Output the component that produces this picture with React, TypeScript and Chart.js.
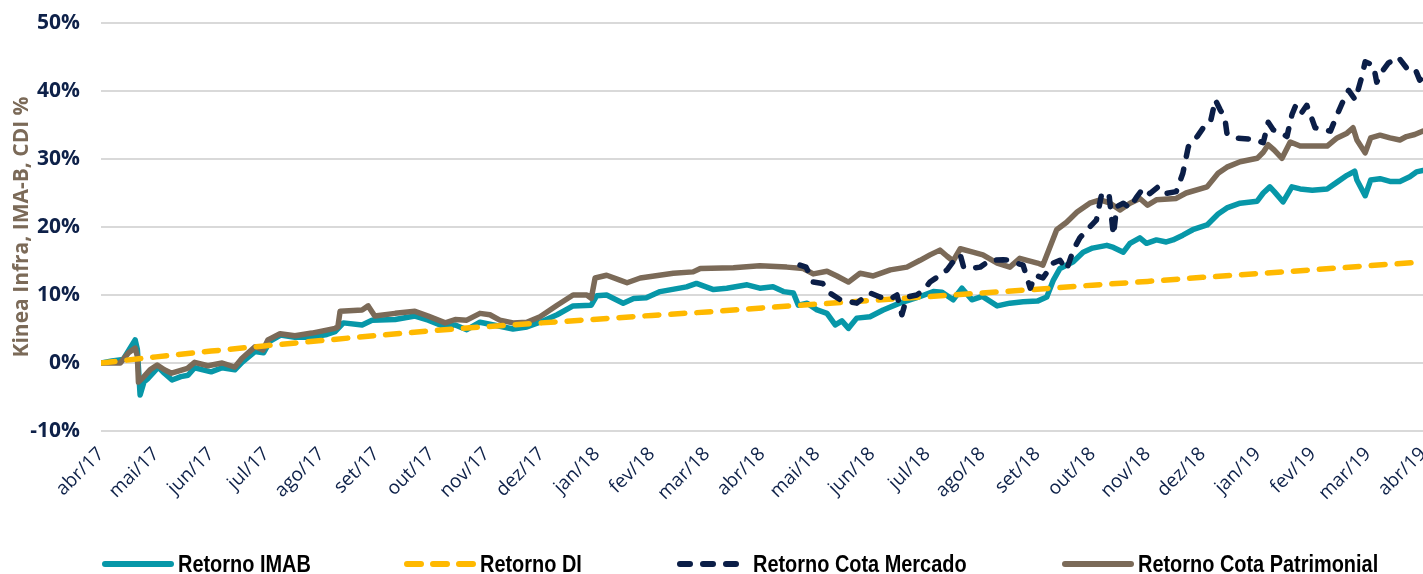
import React, { useEffect, useRef } from 'react';
import { Chart, registerables } from 'chart.js';

Chart.register(...registerables);

// ---- Data ----
const monthLabels = [
  'abr/17', 'mai/17', 'jun/17', 'jul/17', 'ago/17', 'set/17', 'out/17', 'nov/17', 'dez/17',
  'jan/18', 'fev/18', 'mar/18', 'abr/18', 'mai/18', 'jun/18', 'jul/18', 'ago/18', 'set/18',
  'out/18', 'nov/18', 'dez/18', 'jan/19', 'fev/19', 'mar/19', 'abr/19',
];

const seriesNames = ['Retorno IMAB', 'Retorno DI', 'Retorno Cota Mercado', 'Retorno Cota Patrimonial'];

// time in months since abr/17
const imabT = [
  0, 0.2, 0.4, 0.5, 0.62, 0.66, 0.71, 0.78, 0.85, 1.04,
  1.15, 1.29, 1.45, 1.58, 1.7, 1.85, 2.0, 2.2, 2.43, 2.56,
  2.8, 2.95, 3.07, 3.26, 3.52, 3.83, 4.1, 4.25, 4.4, 4.74,
  4.92, 5.34, 5.7, 5.94, 6.25, 6.43, 6.64, 6.88, 7.24, 7.48,
  7.73, 7.97, 8.28, 8.57, 8.9, 9.0, 9.18, 9.48, 9.67, 9.9,
  10.15, 10.63, 10.81, 11.12, 11.36, 11.73, 11.96, 12.2, 12.39, 12.57,
  12.66, 12.82, 13.0, 13.18, 13.33, 13.45, 13.57, 13.72, 13.96, 14.2,
  14.5, 14.81, 15.11, 15.27, 15.47, 15.63, 15.81, 16.0, 16.27, 16.5,
  16.74, 17.0, 17.17, 17.29, 17.41, 17.65, 17.83, 18.0, 18.26, 18.38,
  18.56, 18.68, 18.86, 18.98, 19.16, 19.34, 19.46, 19.64, 19.82, 20.08,
  20.28, 20.44, 20.68, 20.99, 21.1, 21.22, 21.3, 21.46, 21.62, 21.77,
  21.99, 22.26, 22.44, 22.62, 22.76, 22.8, 22.95, 23.05, 23.22, 23.4,
  23.58, 23.76, 23.88, 24.0,
];
const imabV = [
  0, 0.3, 0.5, 1.8, 3.4, 2.0, -4.7, -2.8, -2.3, -0.6,
  -1.5, -2.5, -2.0, -1.8, -0.7, -1.0, -1.3, -0.7, -1.0, 0.1,
  1.7, 1.5, 3.2, 4.1, 3.8, 3.8, 4.2, 4.6, 5.9, 5.6,
  6.3, 6.4, 6.9, 6.3, 5.3, 5.6, 4.9, 6.0, 5.4, 5.0,
  5.3, 6.0, 7.1, 8.4, 8.5, 9.9, 10.0, 8.8, 9.5, 9.6,
  10.5, 11.2, 11.7, 10.8, 11.0, 11.5, 11.0, 11.2, 10.5, 10.3,
  8.5, 8.8, 7.8, 7.3, 5.6, 6.2, 5.1, 6.6, 6.8, 7.8,
  8.8, 9.6, 10.5, 10.4, 9.3, 11.0, 9.3, 9.8, 8.4, 8.8,
  9.0, 9.1, 9.7, 12.2, 13.9, 14.9, 16.3, 16.9, 17.3, 17.0,
  16.3, 17.6, 18.4, 17.6, 18.1, 17.8, 18.1, 18.8, 19.6, 20.3,
  21.9, 22.8, 23.5, 23.8, 25.0, 25.9, 25.2, 23.7, 25.9, 25.6,
  25.4, 25.6, 26.6, 27.6, 28.2, 26.9, 24.6, 26.9, 27.1, 26.7,
  26.7, 27.4, 28.1, 28.3,
];

const diT = [0, 1, 2, 3, 4, 5, 6, 7, 8, 9, 10, 11, 12, 13, 14, 15, 16, 17, 18, 19, 20, 21, 22, 23, 24];
const diV = [
  0, 0.9, 1.75, 2.55, 3.3, 4.05, 4.75, 5.35, 5.9, 6.45, 7.0, 7.5, 8.1,
  8.65, 9.2, 9.75, 10.3, 10.85, 11.45, 12.0, 12.6, 13.15, 13.7, 14.3, 14.85,
];

const mercadoT = [
  12.69, 12.8, 12.93, 13.1, 13.23, 13.42, 13.72, 13.96, 14.14, 14.33,
  14.45, 14.54, 14.63, 14.81, 14.93, 15.05, 15.23, 15.36, 15.45, 15.6,
  15.66, 15.78, 15.96, 16.14, 16.38, 16.5, 16.62, 16.74, 16.87, 16.96,
  17.1, 17.29, 17.41, 17.53, 17.65, 17.77, 17.95, 18.07, 18.17, 18.3,
  18.38, 18.44, 18.56, 18.68, 18.8, 18.92, 19.04, 19.19, 19.31, 19.52,
  19.64, 19.74, 19.9, 20.02, 20.14, 20.23, 20.32, 20.4, 20.44, 20.56,
  20.93, 21.1, 21.19, 21.28, 21.44, 21.53, 21.62, 21.68, 21.77, 21.89,
  21.98, 22.04, 22.32, 22.44, 22.56, 22.65, 22.77, 22.89, 22.95, 23.1,
  23.16, 23.28, 23.37, 23.55, 23.7, 23.85, 23.94, 24.0,
];
const mercadoV = [
  14.4, 14.1, 11.9, 11.7, 10.3, 9.3, 8.8, 10.3, 9.7, 9.4,
  10.0, 7.1, 9.7, 10.0, 10.7, 11.9, 12.9, 13.7, 14.7, 15.9,
  14.1, 13.9, 14.1, 15.1, 15.2, 15.1, 14.7, 14.4, 11.0, 12.9,
  12.5, 14.7, 15.1, 13.7, 16.6, 18.4, 20.0, 21.0, 25.0, 24.8,
  18.8, 23.0, 23.5, 22.8, 24.4, 25.7, 24.9, 25.9, 24.9, 25.2,
  27.9, 31.8, 33.3, 34.7, 35.4, 38.7, 37.2, 36.2, 33.8, 33.1,
  32.9, 32.4, 35.4, 34.3, 33.8, 33.3, 36.5, 37.7, 36.5, 37.9,
  36.0, 34.6, 34.1, 36.5, 38.7, 40.1, 38.7, 42.1, 44.3, 43.8,
  41.3, 43.1, 44.1, 45.0, 43.4, 43.4, 41.6, 42.0,
];

const patrimT = [
  0, 0.35, 0.5, 0.62, 0.66, 0.68, 0.78, 0.89, 1.02, 1.15,
  1.28, 1.57, 1.7, 1.94, 2.2, 2.43, 2.56, 2.8, 2.94, 3.03,
  3.25, 3.52, 3.83, 4.25, 4.3, 4.34, 4.74, 4.85, 4.97, 5.34,
  5.7, 5.94, 6.25, 6.43, 6.64, 6.88, 7.06, 7.24, 7.48, 7.73,
  7.97, 8.28, 8.57, 8.82, 8.9, 8.97, 9.18, 9.42, 9.55, 9.79,
  10.39, 10.75, 10.88, 11.48, 11.96, 12.45, 12.75, 12.93, 13.18, 13.36,
  13.57, 13.78, 14.02, 14.33, 14.63, 14.87, 15.05, 15.23, 15.36, 15.47,
  15.6, 15.83, 16.01, 16.27, 16.5, 16.68, 17.0, 17.1, 17.35, 17.53,
  17.72, 17.95, 18.14, 18.32, 18.5, 18.68, 18.86, 19.0, 19.16, 19.52,
  19.7, 20.08, 20.28, 20.44, 20.68, 20.99, 21.1, 21.19, 21.3, 21.44,
  21.59, 21.77, 21.99, 22.26, 22.44, 22.62, 22.73, 22.8, 22.95, 23.05,
  23.22, 23.4, 23.58, 23.7, 23.85, 24.0,
];
const patrimV = [
  0, 0, 1.5, 2.2, 1.0, -2.8, -2.0, -1.0, -0.3, -1.0,
  -1.5, -0.8, 0.1, -0.4, 0, -0.6, 0.7, 2.4, 1.9, 3.4,
  4.3, 4.0, 4.4, 5.1, 5.3, 7.6, 7.8, 8.4, 6.9, 7.3,
  7.6, 6.9, 5.9, 6.4, 6.3, 7.3, 7.1, 6.3, 5.9, 6.0,
  6.8, 8.5, 10.0, 10.0, 9.5, 12.5, 12.9, 12.2, 11.8, 12.5,
  13.2, 13.4, 13.9, 14.0, 14.3, 14.1, 13.9, 13.1, 13.5, 12.8,
  11.9, 13.2, 12.8, 13.7, 14.1, 15.1, 15.9, 16.6, 15.7, 15.0,
  16.8, 16.3, 15.9, 14.7, 14.1, 15.4, 14.7, 14.4, 19.6, 20.7,
  22.2, 23.5, 24.0, 23.5, 22.5, 23.5, 24.2, 23.2, 24.0, 24.2,
  25.0, 25.9, 27.9, 28.8, 29.6, 30.1, 31.0, 32.1, 31.3, 30.1,
  32.5, 31.9, 31.9, 31.9, 33.1, 33.8, 34.6, 32.8, 30.9, 33.1,
  33.5, 33.1, 32.8, 33.3, 33.6, 34.1,
];

// ---- Styles ----
const TEAL = '#0797A8';
const YELLOW = '#FFB900';
const NAVY = '#0B1E47';
const BROWN = '#7B6A58';
const TICK_COLOR = '#0E2149';

const legendStarts = [102, 404, 677, 1062];

const bottomLegend = {
  id: 'bottomLegend',
  afterDraw(chart: any) {
    const ctx = chart.ctx as CanvasRenderingContext2D;
    const y = 564;
    ctx.save();
    chart.data.datasets.forEach((ds: any, i: number) => {
      const x0 = legendStarts[i];
      ctx.beginPath();
      ctx.strokeStyle = ds.borderColor;
      ctx.lineWidth = 6;
      ctx.lineCap = 'round';
      ctx.setLineDash(ds.borderDash || []);
      ctx.moveTo(x0 + 3, y);
      ctx.lineTo(x0 + 69, y);
      ctx.stroke();
      ctx.setLineDash([]);
      ctx.font = 'bold 24px "Liberation Sans", Arial, sans-serif';
      ctx.fillStyle = '#000000';
      ctx.textAlign = 'left';
      ctx.textBaseline = 'middle';
      const w = ctx.measureText(ds.label).width * 0.83;
      ctx.fillText(ds.label, x0 + 76, y + 1, w);
    });
    ctx.restore();
  },
};

export default function App() {
  const ref = useRef<HTMLCanvasElement>(null);
  useEffect(() => {
    const toPts = (t: number[], v: number[]) => t.map((x, i) => ({ x, y: v[i] }));
    const chart = new Chart(ref.current as HTMLCanvasElement, {
      type: 'line',
      data: {
        datasets: [
          {
            label: seriesNames[0],
            data: toPts(imabT, imabV),
            borderColor: TEAL,
            backgroundColor: TEAL,
            borderWidth: 5.5,
            borderCapStyle: 'round',
            order: 3,
          },
          {
            label: seriesNames[1],
            data: toPts(diT, diV),
            borderColor: YELLOW,
            backgroundColor: YELLOW,
            borderWidth: 5.5,
            borderDash: [14, 12],
            borderCapStyle: 'round',
            order: 1,
          },
          {
            label: seriesNames[2],
            data: toPts(mercadoT, mercadoV),
            borderColor: NAVY,
            backgroundColor: NAVY,
            borderWidth: 5.5,
            borderDash: [10, 13],
            borderCapStyle: 'round',
            order: 0,
          },
          {
            label: seriesNames[3],
            data: toPts(patrimT, patrimV),
            borderColor: BROWN,
            backgroundColor: BROWN,
            borderWidth: 5.5,
            borderCapStyle: 'round',
            order: 2,
          },
        ] as any,
      },
      options: {
        responsive: false,
        animation: false,
        devicePixelRatio: 1,
        layout: { autoPadding: false, padding: { top: 23, left: 0, right: 0, bottom: 0 } },
        elements: {
          point: { radius: 0, hoverRadius: 0 },
          line: { tension: 0, borderJoinStyle: 'round' },
        },
        plugins: { legend: { display: false }, tooltip: { enabled: false } },
        scales: {
          x: {
            type: 'linear',
            min: 0,
            max: 24,
            grid: { display: false },
            border: { display: false },
            ticks: {
              stepSize: 1,
              autoSkip: false,
              minRotation: 45,
              maxRotation: 45,
              padding: 4,
              color: TICK_COLOR,
              font: { family: '"Open Sans", sans-serif', size: 19 },
              callback: (v: any) => monthLabels[Math.round(Number(v))] ?? '',
            },
            afterFit: (s: any) => {
              s.height = 143;
              s.paddingLeft = 0;
              s.paddingRight = 0;
            },
          },
          y: {
            min: -10,
            max: 50,
            grid: { color: '#D9D9D9', lineWidth: 2, drawTicks: false },
            border: { display: false },
            ticks: {
              stepSize: 10,
              padding: 21,
              color: TICK_COLOR,
              font: { family: '"Open Sans", sans-serif', size: 21, weight: 'bold' },
              callback: (v: any) => `${v}%`,
            },
            title: {
              display: true,
              text: 'Kinea Infra, IMA-B, CDI %',
              color: BROWN,
              font: { family: '"Open Sans", sans-serif', size: 21, weight: 'bold' },
              padding: { top: 9, bottom: 0 },
            },
            afterFit: (s: any) => {
              s.width = 101;
              s.paddingTop = 0;
              s.paddingBottom = 0;
            },
          },
        },
      } as any,
      plugins: [bottomLegend],
    });
    return () => chart.destroy();
  }, []);

  return (
    <div style={{ position: 'absolute', left: 0, top: 0, width: 1423, height: 574, background: '#fff' }}>
      <canvas ref={ref} width={1423} height={574} style={{ display: 'block', width: 1423, height: 574 }} />
    </div>
  );
}
